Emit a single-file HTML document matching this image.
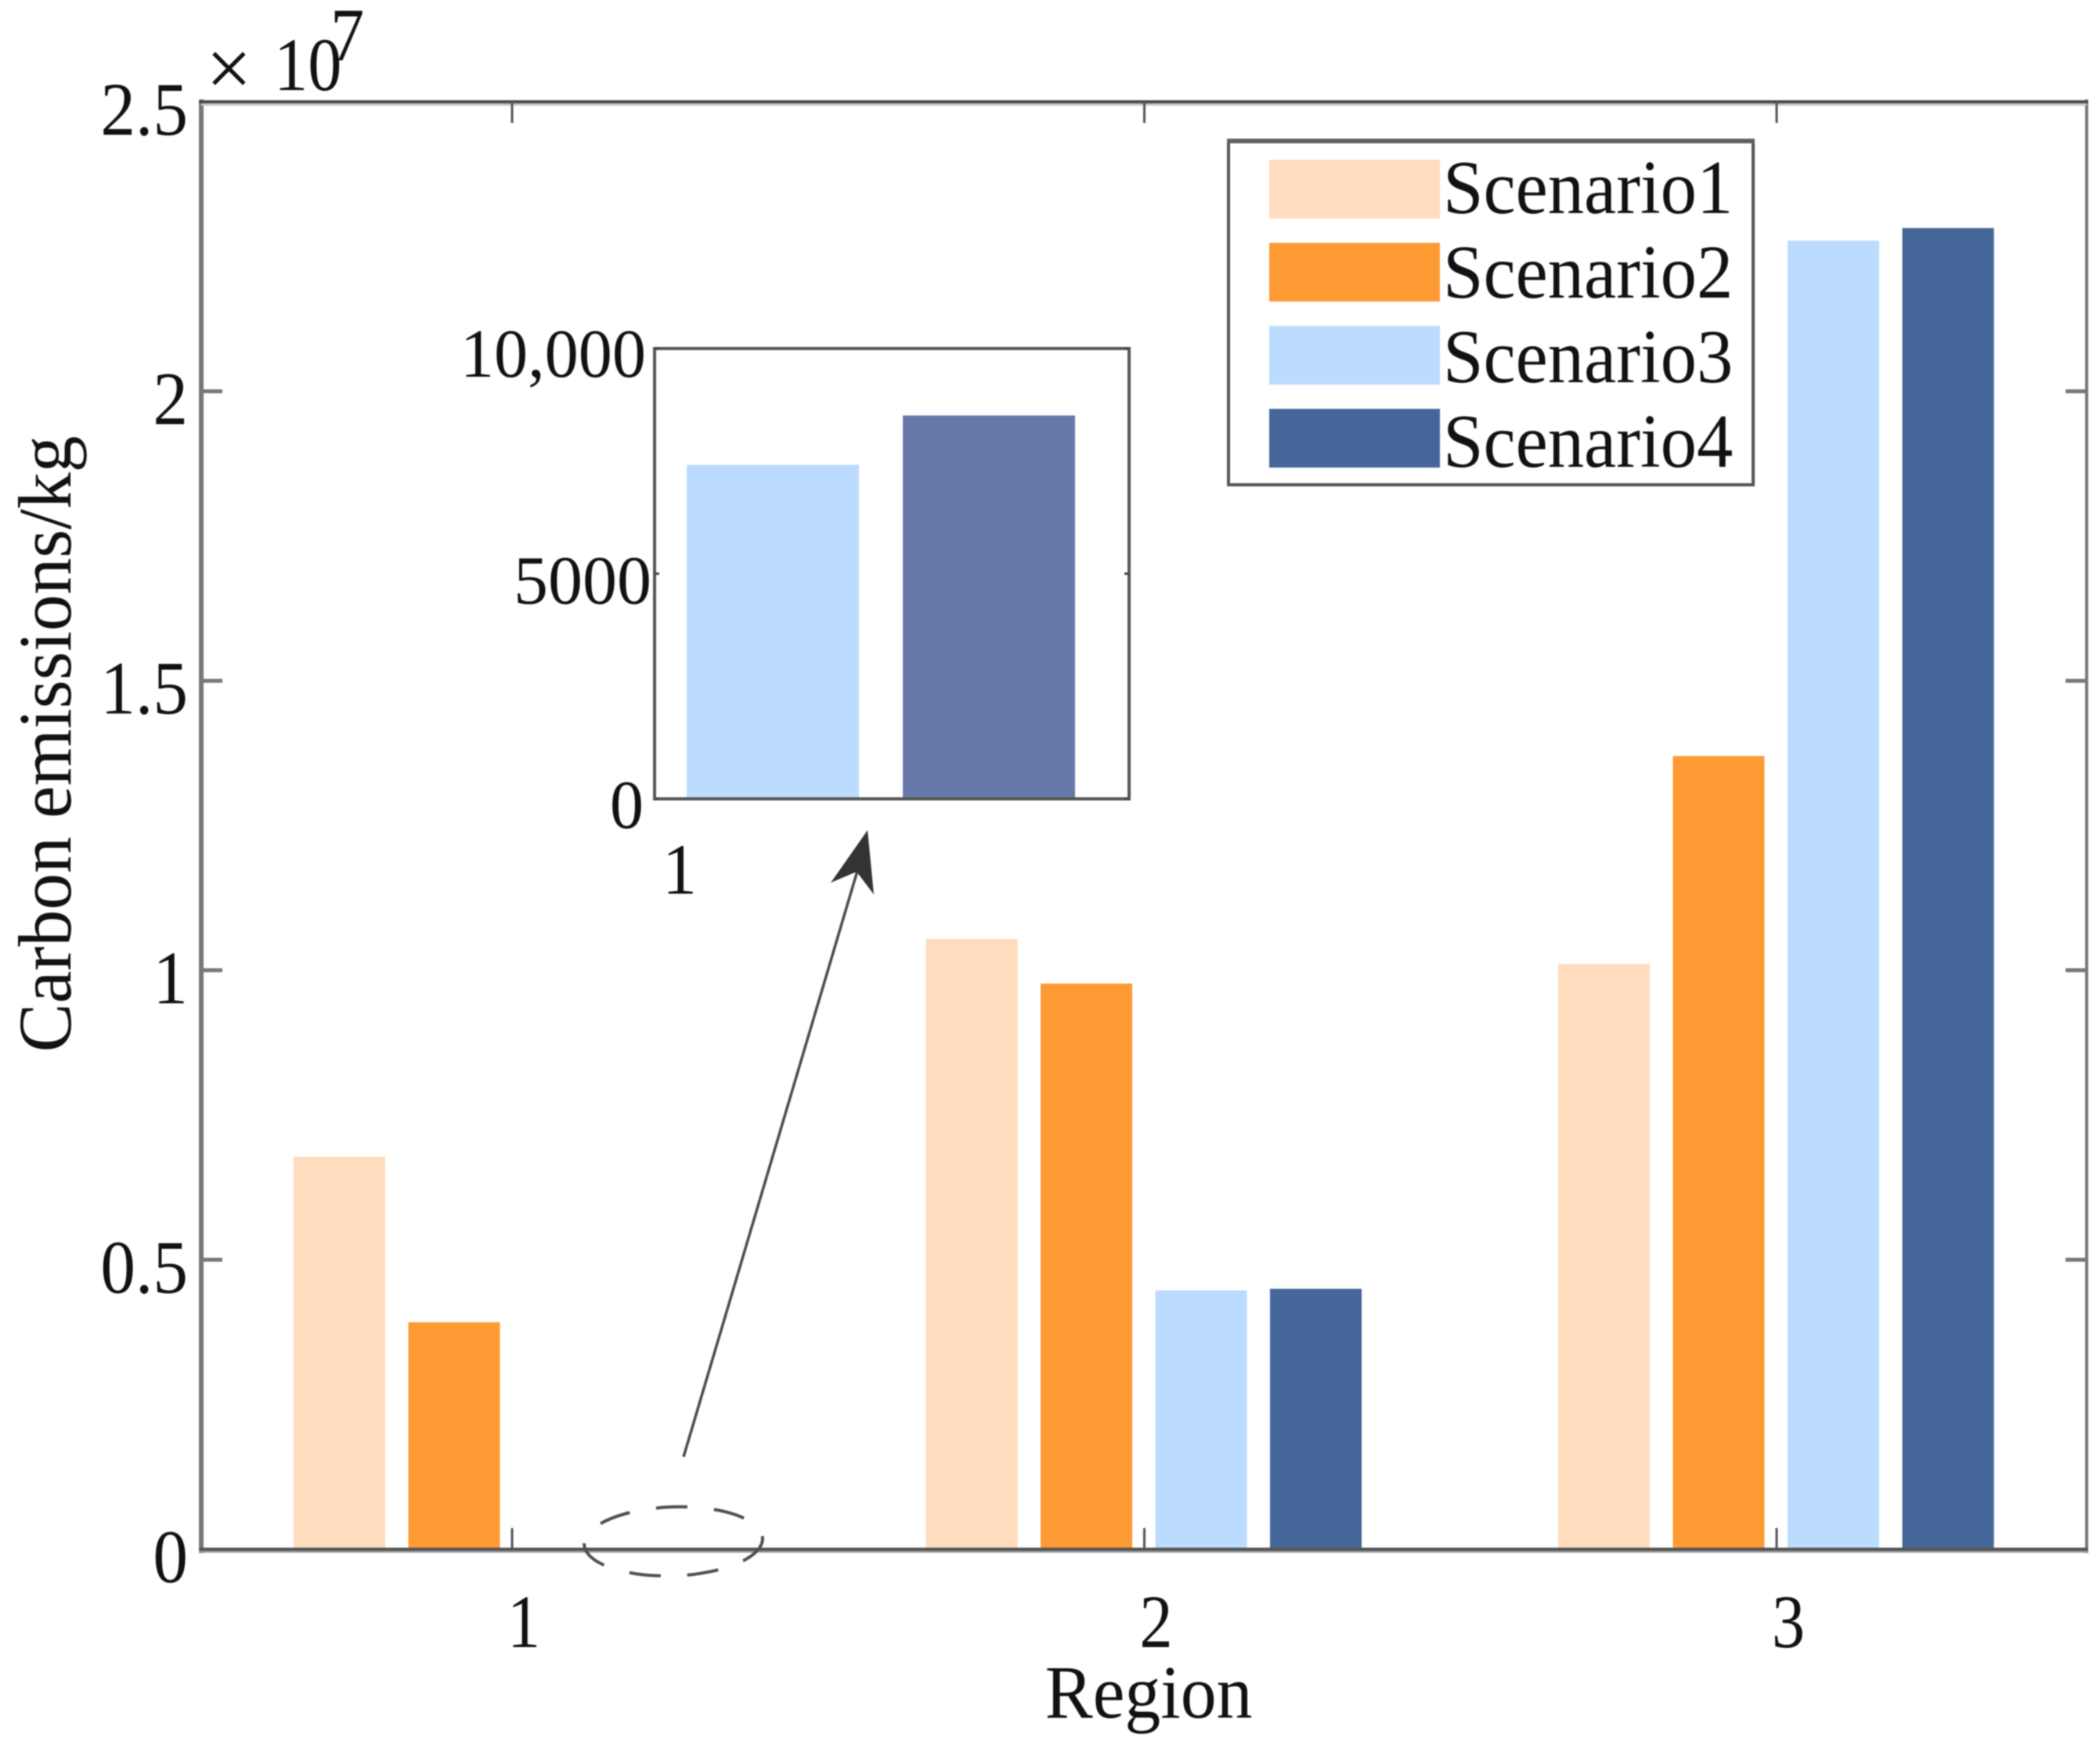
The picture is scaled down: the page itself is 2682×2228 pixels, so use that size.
<!DOCTYPE html>
<html lang="en">
<head>
<meta charset="utf-8">
<title>Carbon emissions by region</title>
<style>
html,body{margin:0;padding:0;background:#fff;}
svg{display:block;filter:blur(0.7px);}
text{font-family:"Liberation Serif",serif;fill:#111;}
</style>
</head>
<body>
<svg id="chart" xmlns="http://www.w3.org/2000/svg" width="2682" height="2228" viewBox="0 0 2682 2228">
  <rect x="0" y="0" width="2682" height="2228" fill="#fff"/>
  <g id="bars"></g>
  <g id="axes"></g>
  <g id="inset"></g>
  <g id="legend"></g>
  <g>
    <text transform="translate(263,122)" font-size="104">×</text>
    <text transform="translate(350,115) scale(.9,1)" font-size="96">10</text>
    <text transform="translate(422,77) scale(.9,1)" font-size="96">7</text>
  </g>
  <text transform="translate(90,950) rotate(-90) scale(.974,1)" font-size="96" text-anchor="middle">Carbon emissions/kg</text>
  <text transform="translate(1467,2193) scale(.955,1)" font-size="96" text-anchor="middle">Region</text>
  <g>
    <ellipse cx="860" cy="1968" rx="114" ry="44" fill="none" stroke="#505050" stroke-width="4" stroke-dasharray="40 34" transform="rotate(-2 860 1968)"/>
    <line x1="873" y1="1860" x2="1095" y2="1112" stroke="#4a4a4a" stroke-width="3.5"/>
    <polygon points="1108,1060 1116,1142 1094,1113 1061,1127" fill="#333"/>
  </g>
</svg>
<script>
const regions = ["1", "2", "3"];
const scenarioNames = ["Scenario1", "Scenario2", "Scenario3", "Scenario4"];
const scenario1 = [6780000, 10540000, 10110000];
const scenario2 = [3920000, 9770000, 13700000];
const scenario3 = [7417, 4470000, 22600000];
const scenario4 = [8513, 4497000, 22820000];
const yTicks = [0, 5000000, 10000000, 15000000, 20000000, 25000000];
const yTickLabels = ["0", "0.5", "1", "1.5", "2", "2.5"];
const insetTicks = [0, 5000, 10000];
const insetTickLabels = ["0", "5000", "10,000"];
const insetCategoryLabel = "1";

const NS = "http://www.w3.org/2000/svg";
const seriesList = [scenario1, scenario2, scenario3, scenario4];
const seriesColors = ["#fedcbd", "#fe9a33", "#bbdcfe", "#456699"];
const insetColors = ["#bbdcfe", "#6578a8"];

const plot = {left: 257, right: 2665, top: 130, bottom: 1978, yMax: 25000000};
const ins = {left: 836, right: 1442, top: 445, bottom: 1020, yMax: 10000};

function yMain(v) { return plot.bottom - (v / plot.yMax) * (plot.bottom - plot.top); }
function xRegion(i) { return 654 + i * 807.5; }
function xBar(i, s) { return xRegion(i) - 279 + s * 146.5; }
function yInset(v) { return ins.bottom - (v / ins.yMax) * (ins.bottom - ins.top); }
function xInsetBar(k) { return 877 + k * 276; }

function make(tag, parent, attrs) {
  const el = document.createElementNS(NS, tag);
  for (const k in attrs) el.setAttribute(k, attrs[k]);
  parent.appendChild(el);
  return el;
}

const barsG = document.getElementById("bars");
const axesG = document.getElementById("axes");
const insetG = document.getElementById("inset");
const legendG = document.getElementById("legend");

/* main bars */
seriesList.forEach(function (series, s) {
  series.forEach(function (v, i) {
    const top = yMain(v);
    const el = make("rect", barsG, {x: xBar(i, s), y: top, width: 117, height: plot.bottom - top, fill: seriesColors[s]});
    
    
  });
});

/* main frame */
const frameLeft = make("line", axesG, {x1: plot.left, y1: plot.top - 3, x2: plot.left, y2: plot.bottom + 5, stroke: "#777", "stroke-width": 6});


const frameRight = make("line", axesG, {x1: plot.right, y1: plot.top - 3, x2: plot.right, y2: plot.bottom + 5, stroke: "#777", "stroke-width": 4});


const frameTopShade = make("line", axesG, {x1: plot.left, y1: plot.top + 3, x2: plot.right, y2: plot.top + 3, stroke: "#c8c8c8", "stroke-width": 4});


const frameTop = make("line", axesG, {x1: plot.left - 3, y1: plot.top, x2: plot.right + 2, y2: plot.top, stroke: "#4a4a4a", "stroke-width": 4});


const frameBottomShade = make("line", axesG, {x1: plot.left - 3, y1: plot.bottom + 3, x2: plot.right + 2, y2: plot.bottom + 3, stroke: "#999", "stroke-width": 3});


const frameBottom = make("line", axesG, {x1: plot.left - 3, y1: plot.bottom, x2: plot.right + 2, y2: plot.bottom, stroke: "#555", "stroke-width": 4});



/* y ticks and labels */
yTicks.forEach(function (v, i) {
  const y = yMain(v);
  if (i > 0 && i < yTicks.length - 1) {
    const t1 = make("line", axesG, {x1: plot.left, y1: y, x2: plot.left + 27, y2: y, stroke: "#777", "stroke-width": 5});
    
    
    const t2 = make("line", axesG, {x1: plot.right - 27, y1: y, x2: plot.right, y2: y, stroke: "#777", "stroke-width": 5});
    
    
  }
  const lab = make("text", axesG, {transform: "translate(240," + (y + 42) + ") scale(.93,1)", "font-size": 96, "text-anchor": "end"});
  lab.textContent = yTickLabels[i];
  
  
});

/* x ticks and labels */
regions.forEach(function (r, i) {
  const x = xRegion(i);
  const t1 = make("line", axesG, {x1: x, y1: plot.bottom, x2: x, y2: plot.bottom - 27, stroke: "#555", "stroke-width": 3});
  
  
  const t2 = make("line", axesG, {x1: x, y1: plot.top, x2: x, y2: plot.top + 27, stroke: "#555", "stroke-width": 3});
  
  
  const lab = make("text", axesG, {transform: "translate(" + (x + 15) + ",2103) scale(.88,1)", "font-size": 96, "text-anchor": "middle"});
  lab.textContent = r;
  
  
});

/* inset */
const insetBg = make("rect", insetG, {x: ins.left, y: ins.top, width: ins.right - ins.left, height: ins.bottom - ins.top, fill: "#fff"});


[scenario3[0], scenario4[0]].forEach(function (v, k) {
  const top = yInset(v);
  const el = make("rect", insetG, {x: xInsetBar(k), y: top, width: 220, height: ins.bottom - top, fill: insetColors[k]});
  
  
});
const insetFrame = make("rect", insetG, {x: ins.left, y: ins.top, width: ins.right - ins.left, height: ins.bottom - ins.top, fill: "none", stroke: "#555", "stroke-width": 4});


insetTicks.forEach(function (v, i) {
  const y = yInset(v);
  const t1 = make("line", insetG, {x1: ins.left, y1: y, x2: ins.left + 6, y2: y, stroke: "#444", "stroke-width": 3});
  
  
  const t2 = make("line", insetG, {x1: ins.right - 6, y1: y, x2: ins.right, y2: y, stroke: "#444", "stroke-width": 3});
  
  
  const lab = make("text", insetG, {transform: "translate(" + (i === 0 ? 822 : (i === 1 ? 832 : 825)) + "," + (y + (i === 0 ? 37 : (i === 1 ? 38 : 36))) + ") scale(" + (i === 1 ? 1.0 : .98) + ",1)", "font-size": 88, "text-anchor": "end"});
  lab.textContent = insetTickLabels[i];
  
  
});
const insetX = make("text", insetG, {transform: "translate(868,1141) scale(.96,1)", "font-size": 92, "text-anchor": "middle"});
insetX.textContent = insetCategoryLabel;



/* legend */
const legendBox = make("rect", legendG, {x: 1569, y: 179, width: 670, height: 440, fill: "#fff", stroke: "#555", "stroke-width": 4});


const legendTop = make("line", legendG, {x1: 1567, y1: 180, x2: 2241, y2: 180, stroke: "#606060", "stroke-width": 6});


scenarioNames.forEach(function (name, s) {
  const sw = make("rect", legendG, {x: 1621, y: 204 + s * 106, width: 218, height: 75, fill: seriesColors[s]});
  
  
  const lab = make("text", legendG, {transform: "translate(1843," + (272 + s * 108) + ") scale(.945,1)", "font-size": 98});
  lab.textContent = name;
  
  
});
</script>
</body>
</html>
